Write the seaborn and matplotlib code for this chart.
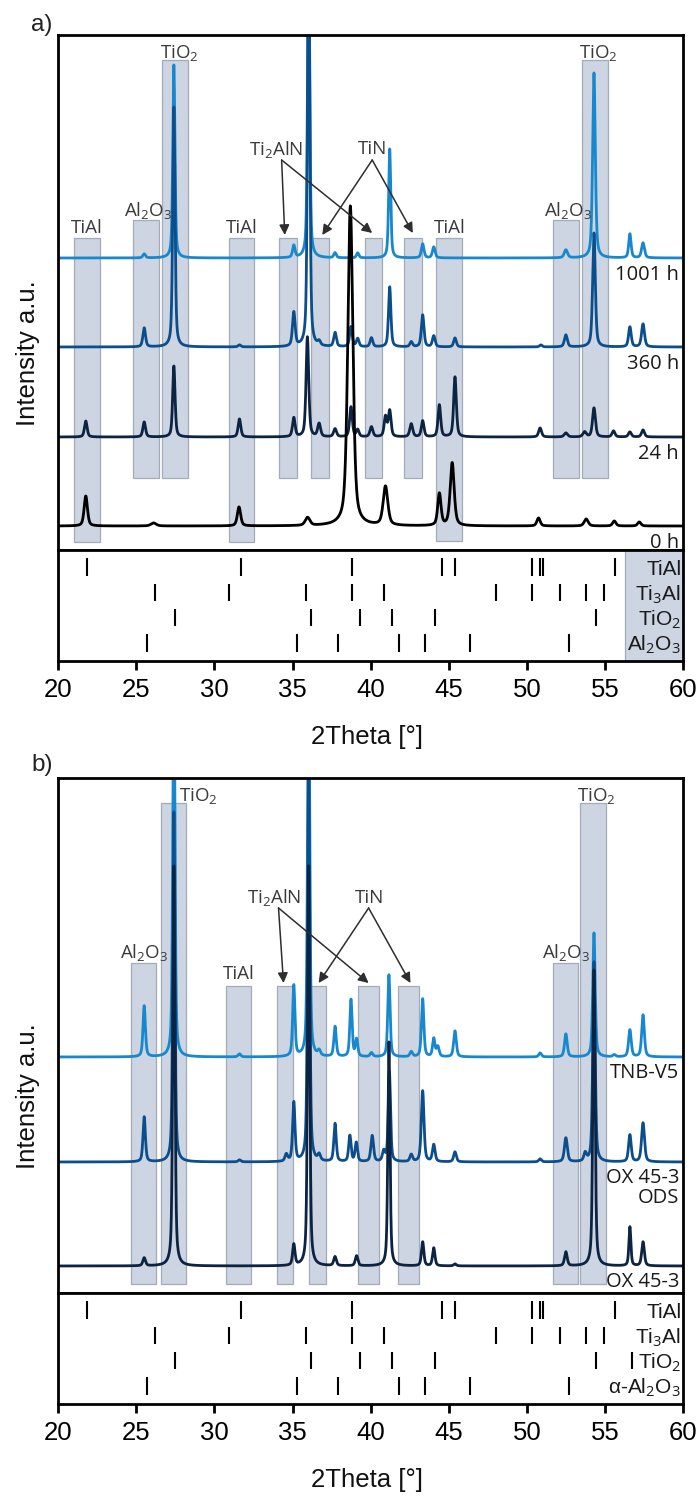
import numpy as np
import pandas as pd
import matplotlib
matplotlib.use("Agg")
import matplotlib.pyplot as plt
import seaborn as sns

# ------------------------------------------------------------------
# DATA
# ------------------------------------------------------------------
# Panel a) -- peak lists: 2Theta [deg], intensity [a.u.], FWHM [deg]
a_1001h_pos = [25.5, 27.4, 35.08, 36.03, 37.72, 39.17, 41.22, 43.33, 44.04, 52.5, 54.3, 56.6, 57.44]
a_1001h_int = [4, 193, 12, 330, 5, 5, 109, 14, 11, 8, 185, 24, 15]
a_1001h_fwhm = [0.2, 0.16, 0.18, 0.16, 0.18, 0.18, 0.16, 0.2, 0.2, 0.25, 0.2, 0.18, 0.22]

a_360h_pos = [25.5, 27.4, 31.6, 35.08, 36.03, 36.7, 37.72, 38.74, 39.17, 40.05, 41.22, 42.6,
              43.33, 44.04, 45.4, 50.9, 52.5, 54.3, 56.6, 57.44]
a_360h_int = [19, 240, 2, 34, 400, 4, 14, 20, 8, 9, 60, 5, 32, 11, 9, 2, 12, 114, 20, 23]
a_360h_fwhm = [0.2, 0.17, 0.2, 0.2, 0.17, 0.2, 0.2, 0.2, 0.2, 0.2, 0.18, 0.2,
               0.2, 0.2, 0.2, 0.2, 0.22, 0.2, 0.2, 0.22]

a_24h_pos = [21.76, 25.5, 27.4, 31.6, 35.08, 35.95, 36.7, 37.72, 38.74, 39.17, 40.05, 40.95,
             41.22, 42.6, 43.33, 44.4, 45.4, 50.85, 52.5, 53.7, 54.3, 55.55, 56.6, 57.44]
a_24h_int = [16, 15, 71, 18, 19, 100, 13, 8, 30, 7, 10, 20, 26, 13, 16, 32, 60, 9, 4, 5, 29, 6, 5, 7]
a_24h_fwhm = [0.2, 0.2, 0.18, 0.2, 0.2, 0.2, 0.22, 0.22, 0.2, 0.2, 0.22, 0.2,
              0.2, 0.22, 0.2, 0.2, 0.2, 0.22, 0.25, 0.25, 0.22, 0.22, 0.22, 0.22]

a_0h_pos = [21.76, 26.1, 31.57, 35.96, 38.7, 40.95, 44.4, 45.22, 50.75, 53.8, 55.6, 57.2]
a_0h_int = [30, 3, 19, 8, 320, 39, 32, 63, 8, 7, 5, 4]
a_0h_fwhm = [0.25, 0.4, 0.25, 0.35, 0.38, 0.35, 0.25, 0.3, 0.25, 0.3, 0.25, 0.25]

a_samples = ["1001 h", "360 h", "24 h", "0 h"]

# Panel b)
b_tnb_pos = [25.5, 27.4, 31.6, 35.08, 36.03, 36.7, 37.72, 38.74, 39.1, 40.05, 41.17, 42.6,
             43.33, 44.04, 44.3, 45.4, 50.85, 52.5, 54.3, 55.6, 56.6, 57.44]
b_tnb_int = [51, 400, 3, 71, 400, 5, 30, 57, 17, 4, 82, 5, 58, 18, 10, 26, 4, 23, 124, 2, 27, 42]
b_tnb_fwhm = [0.18, 0.16, 0.2, 0.17, 0.16, 0.2, 0.18, 0.17, 0.18, 0.2, 0.17, 0.2,
              0.18, 0.18, 0.2, 0.2, 0.2, 0.2, 0.18, 0.2, 0.2, 0.2]

b_ods_pos = [25.5, 27.4, 31.6, 34.6, 35.08, 36.03, 36.7, 37.72, 38.67, 39.08, 40.1, 40.84,
             41.2, 42.6, 43.33, 44.04, 45.4, 50.85, 52.5, 53.74, 54.3, 56.6, 57.44]
b_ods_int = [45, 350, 2, 7, 59, 400, 6, 38, 26, 19, 26, 10, 90, 7, 71, 17, 10, 3, 24, 8, 200, 27, 39]
b_ods_fwhm = [0.18, 0.16, 0.2, 0.2, 0.18, 0.16, 0.2, 0.18, 0.18, 0.18, 0.2, 0.2,
              0.17, 0.2, 0.2, 0.2, 0.2, 0.2, 0.22, 0.2, 0.18, 0.2, 0.22]

b_ox_pos = [25.5, 27.4, 35.08, 36.03, 37.72, 39.1, 41.17, 43.33, 44.04, 45.4, 52.5, 54.3, 56.6, 57.44]
b_ox_int = [8, 400, 21, 400, 9, 10, 224, 24, 18, 2, 14, 296, 39, 24]
b_ox_fwhm = [0.2, 0.16, 0.18, 0.16, 0.2, 0.2, 0.16, 0.18, 0.18, 0.2, 0.2, 0.17, 0.15, 0.2]

b_samples = ["TNB-V5", "OX 45-3\nODS", "OX 45-3"]

# Reference reflections (stick patterns)
ref_tial = [21.86, 31.69, 38.8, 44.54, 45.37, 50.34, 50.83, 51.06, 55.66]
ref_ti3al = [26.2, 30.91, 35.86, 38.8, 40.86, 48.0, 50.34, 52.14, 53.77, 54.91]
ref_tio2_a = [27.49, 36.2, 39.31, 41.34, 44.14, 54.43]
ref_tio2_b = [27.49, 36.2, 39.31, 41.34, 44.14, 54.43, 56.71]
ref_al2o3 = [25.66, 35.29, 37.91, 41.83, 43.46, 46.34, 52.71]
ref_names_a = ["TiAl", "Ti$_3$Al", "TiO$_2$", "Al$_2$O$_3$"]
ref_names_b = ["TiAl", "Ti$_3$Al", "TiO$_2$", "\u03b1-Al$_2$O$_3$"]

# Phase regions highlighted (2Theta left, right, top, bottom)
a_box_left = [21.0, 24.76, 26.67, 30.9, 34.15, 36.2, 39.62, 42.16, 44.19, 51.69, 53.53]
a_box_right = [22.67, 26.43, 28.33, 32.55, 35.26, 37.33, 40.73, 43.29, 45.86, 53.33, 55.18]
a_box_top = [312, 330, 490, 312, 312, 312, 312, 312, 312, 330, 490]
a_box_bot = [8, 72, 72, 8, 72, 72, 72, 72, 9, 72, 72]

b_box_left = [24.64, 26.6, 30.73, 34.0, 36.05, 39.19, 41.76, 51.65, 53.42]
b_box_right = [26.26, 28.2, 32.37, 35.06, 37.14, 40.56, 43.08, 53.25, 55.04]
b_box_top = [330, 490, 307, 307, 307, 307, 307, 330, 490]
b_box_bot = [9, 9, 9, 9, 9, 9, 9, 9, 9]

# ------------------------------------------------------------------
# STYLE / LAYOUT
# ------------------------------------------------------------------
sns.set_theme(style="white")
plt.rcParams["font.family"] = ["Liberation Sans", "DejaVu Sans"]
plt.rcParams["mathtext.fontset"] = "custom"
plt.rcParams["mathtext.rm"] = "Open Sans"
plt.rcParams["mathtext.it"] = "Open Sans:italic"
plt.rcParams["mathtext.bf"] = "Open Sans:bold"

a_offsets = [292, 203, 113, 24]
b_offsets = [236, 131, 27]
a_colors = ["#1788cd", "#0b4e8b", "#0c2442", "#000000"]
b_colors = ["#1788cd", "#0b4e8b", "#0c2442"]
BOX_FC = "#cdd5e2"
BOX_EC = "#a3abb8"
ANN = "#3a3a3a"
LABEL_FONT = ["Open Sans", "DejaVu Sans"]

grid = np.arange(20.0, 60.0001, 0.005)


def pattern(pos, inten, fwhm):
    y = np.zeros_like(grid)
    for p, h, w in zip(pos, inten, fwhm):
        d = (grid - p) / w
        y += h * (0.5 * np.exp(-4 * np.log(2) * d ** 2) + 0.5 / (1 + 4 * d ** 2))
    return y


fig = plt.figure(figsize=(7.0, 14.97), dpi=100)
L, W = 58.3 / 700, 624.7 / 700


def fy(px):
    return 1 - px / 1497


ax_a = fig.add_axes([L, fy(550), W, 515 / 1497])
ax_as = fig.add_axes([L, fy(661), W, 111 / 1497])
ax_b = fig.add_axes([L, fy(1293), W, 515 / 1497])
ax_bs = fig.add_axes([L, fy(1404), W, 111 / 1497])


def draw_main(ax, sets, names, offsets, colors, bl, br, bt, bb):
    # highlight boxes
    bl, br, bt, bb = map(np.asarray, (bl, br, bt, bb))
    ax.bar(x=(bl + br) / 2, height=bt - bb, bottom=bb, width=br - bl,
           color=BOX_FC, edgecolor=BOX_EC, linewidth=0.9, zorder=0)
    frames = []
    for (pos, inten, fw), name, off in zip(sets, names, offsets):
        frames.append(pd.DataFrame({"two_theta": grid,
                                    "I": pattern(pos, inten, fw) + off,
                                    "sample": name}))
    df = pd.concat(frames, ignore_index=True)
    sns.lineplot(data=df, x="two_theta", y="I", hue="sample", hue_order=names,
                 palette=colors, estimator=None, sort=False, legend=False,
                 linewidth=2.0, ax=ax, zorder=2)
    ax.set_xlim(20, 60)
    ax.set_ylim(0, 515)
    ax.set_xticks([])
    ax.set_yticks([])
    ax.set_xlabel("")
    ax.set_ylabel("")
    for s in ax.spines.values():
        s.set_linewidth(2.0)
        s.set_color("black")
        s.set_visible(True)


draw_main(ax_a,
          [(a_1001h_pos, a_1001h_int, a_1001h_fwhm), (a_360h_pos, a_360h_int, a_360h_fwhm),
           (a_24h_pos, a_24h_int, a_24h_fwhm), (a_0h_pos, a_0h_int, a_0h_fwhm)],
          a_samples, a_offsets, a_colors, a_box_left, a_box_right, a_box_top, a_box_bot)
draw_main(ax_b,
          [(b_tnb_pos, b_tnb_int, b_tnb_fwhm), (b_ods_pos, b_ods_int, b_ods_fwhm),
           (b_ox_pos, b_ox_int, b_ox_fwhm)],
          b_samples, b_offsets, b_colors, b_box_left, b_box_right, b_box_top, b_box_bot)

# sample labels
for name, off in zip(a_samples, a_offsets):
    ax_a.text(59.75, off - 17, name, ha="right", va="center", fontsize=14.5,
              family=LABEL_FONT, color="#1a1a1a", zorder=5)
ax_b.text(59.75, b_offsets[0] - 16, b_samples[0], ha="right", va="center", fontsize=14.5,
          family=LABEL_FONT, color="#1a1a1a", zorder=5)
ax_b.text(59.75, b_offsets[1] - 26, b_samples[1], ha="right", va="center", fontsize=14.5,
          family=LABEL_FONT, color="#1a1a1a", linespacing=1.0, zorder=5)
ax_b.text(59.75, b_offsets[2] - 16, b_samples[2], ha="right", va="center", fontsize=14.5,
          family=LABEL_FONT, color="#1a1a1a", zorder=5)


def ann(ax, x, y, s, ha="center"):
    ax.text(x, y, s, ha=ha, va="baseline", fontsize=13.5, family=LABEL_FONT,
            color=ANN, zorder=5)


def arrow(ax, x0, y0, x1, y1):
    ax.annotate("", xy=(x1, y1), xytext=(x0, y0),
                arrowprops=dict(arrowstyle="-|>", color="#2e2e2e", lw=1.1,
                                mutation_scale=15, shrinkA=0, shrinkB=0),
                zorder=6)


# panel a annotations
ann(ax_a, 21.85, 317, "TiAl")
ann(ax_a, 25.75, 334, "Al$_2$O$_3$")
ann(ax_a, 27.75, 492, "TiO$_2$")
ann(ax_a, 31.72, 317, "TiAl")
ann(ax_a, 45.05, 317, "TiAl")
ann(ax_a, 52.65, 334, "Al$_2$O$_3$")
ann(ax_a, 54.6, 492, "TiO$_2$")
ann(ax_a, 33.95, 395, "Ti$_2$AlN")
ann(ax_a, 40.15, 396, "TiN")
arrow(ax_a, 34.3, 390, 34.5, 315)
arrow(ax_a, 34.3, 390, 40.1, 317)
arrow(ax_a, 40.1, 390, 36.9, 315)
arrow(ax_a, 40.1, 390, 42.7, 317)

# panel b annotations
ann(ax_b, 25.5, 335, "Al$_2$O$_3$")
ann(ax_b, 27.72, 492, "TiO$_2$", ha="left")
ann(ax_b, 31.55, 314, "TiAl")
ann(ax_b, 52.5, 335, "Al$_2$O$_3$")
ann(ax_b, 54.45, 492, "TiO$_2$")
ann(ax_b, 33.8, 390, "Ti$_2$AlN")
ann(ax_b, 39.95, 390, "TiN")
arrow(ax_b, 34.1, 385, 34.42, 310)
arrow(ax_b, 34.1, 385, 39.87, 310)
arrow(ax_b, 39.87, 385, 36.67, 310)
arrow(ax_b, 39.87, 385, 42.55, 310)


# stick panels
def draw_sticks(ax, rows, names, shade=None):
    if shade is not None:
        ax.axvspan(shade[0], shade[1], facecolor=BOX_FC, edgecolor=BOX_EC,
                   linewidth=0.9, zorder=0)
    for i, (vals, name) in enumerate(zip(rows, names)):
        ax.vlines(vals, i - 0.34, i + 0.34, color="black", linewidth=1.5, zorder=2)
        ax.text(59.88, i + 0.3, name, ha="right", va="baseline", fontsize=15,
                color="#1a1a1a", zorder=3)
    ax.set_xlim(20, 60)
    ax.set_ylim(3.71, -0.67)
    ax.set_yticks([])
    ax.set_xticks(np.arange(20, 61, 5))
    ax.tick_params(axis="x", direction="out", length=6.5, width=2.0,
                   labelsize=18.5, pad=6, bottom=True, colors="black")
    for s in ax.spines.values():
        s.set_linewidth(2.0)
        s.set_color("black")
        s.set_visible(True)


draw_sticks(ax_as, [ref_tial, ref_ti3al, ref_tio2_a, ref_al2o3], ref_names_a, shade=(56.3, 60.0))
draw_sticks(ax_bs, [ref_tial, ref_ti3al, ref_tio2_b, ref_al2o3], ref_names_b)

# axis titles and panel letters
for yc in (737, 1480):
    fig.text(367 / 700, fy(yc), "2Theta [\u00b0]", ha="center", va="center",
             fontsize=18.5, color="#111111")
for yc in (353, 1096):
    fig.text(28 / 700, fy(yc), "Intensity a.u.", ha="center", va="center",
             rotation=90, fontsize=18.5, color="#111111")
fig.text(42 / 700, fy(25), "a)", ha="center", va="center", fontsize=17.5, color="#222222")
fig.text(42 / 700, fy(765), "b)", ha="center", va="center", fontsize=17.5, color="#222222")

fig.savefig("out.png", dpi=100)
